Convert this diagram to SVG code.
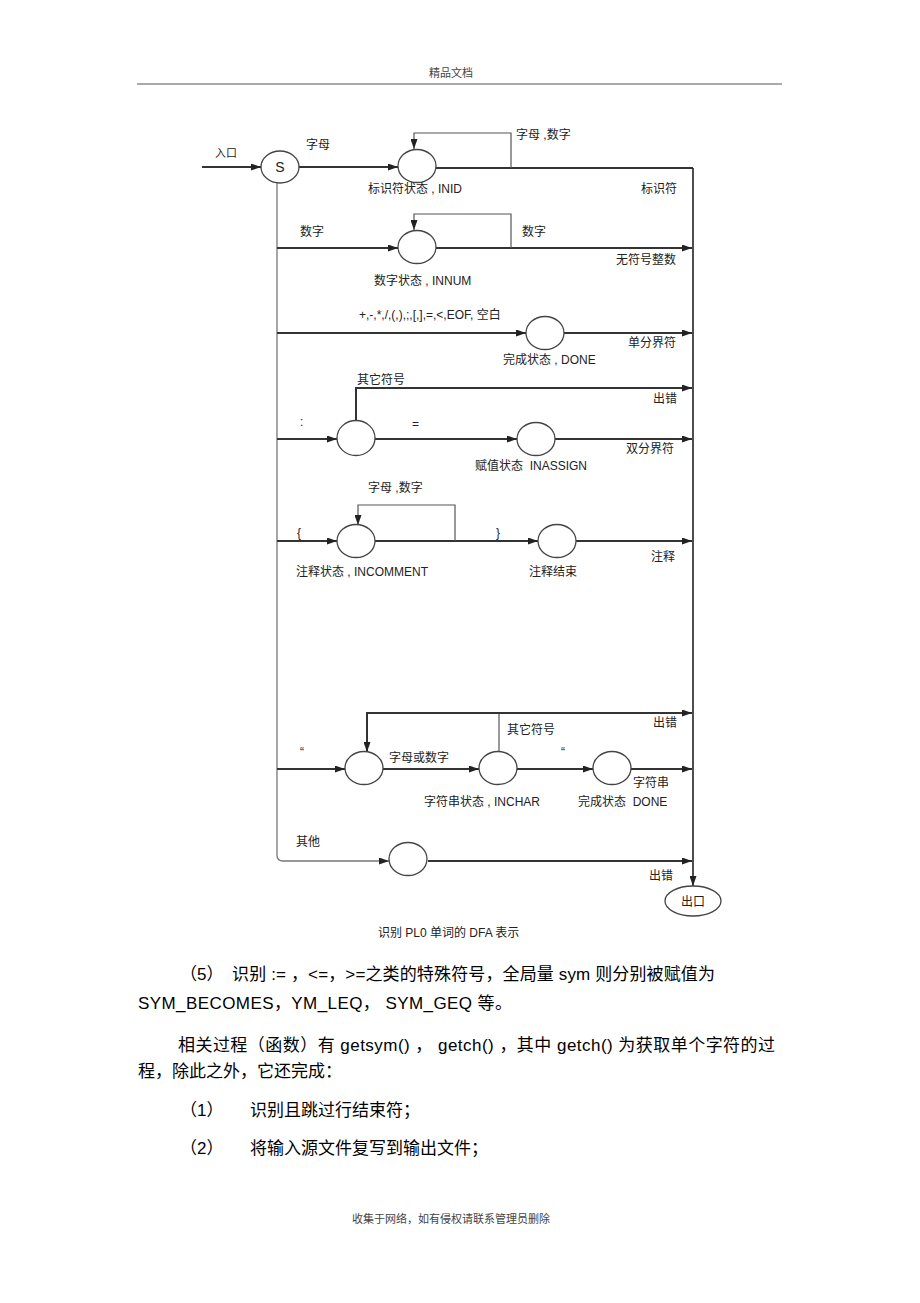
<svg xmlns="http://www.w3.org/2000/svg" width="920" height="1303" viewBox="0 0 920 1303">
<style>
.t{font-family:"Liberation Sans","Noto Sans CJK SC",sans-serif;font-size:12px;fill:#222}
.b{font-family:"Liberation Sans","Noto Sans CJK SC",sans-serif;font-size:17px;fill:#000}
.h{font-family:"Liberation Sans","Noto Sans CJK SC",sans-serif;font-size:11px;fill:#444}
.st{fill:#fff;stroke:#444;stroke-width:1.3}
.e{fill:none;stroke:#333;stroke-width:2}
.l{fill:none;stroke:#555;stroke-width:1.2}
.v{fill:none;stroke:#777;stroke-width:1.3}
</style>
<defs>
<marker id="a" markerWidth="10" markerHeight="7" refX="10" refY="3.5" orient="auto" markerUnits="userSpaceOnUse">
<path d="M0,0 L10,3.5 L0,7 z" fill="#222"/>
</marker>
</defs>
<rect width="920" height="1303" fill="#fff"/>

<g id="header">
<text class="h" x="451" y="77" text-anchor="middle">精品文档</text>
<line x1="137" y1="84" x2="782" y2="84" stroke="#555" stroke-width="1"/>
</g>

<g id="connectors">
<path class="e" d="M202,167 H261" marker-end="url(#a)"/>
<path class="e" d="M299,167 H398" marker-end="url(#a)"/>
<path class="e" d="M436,168 H693"/>
<path class="l" d="M511,168 V133 H414 V149" marker-end="url(#a)"/>
<path class="v" d="M277,183 V855 Q277,861 283,861 H389" marker-end="url(#a)"/>
<path class="e" d="M277,248 H398" marker-end="url(#a)"/>
<path class="e" d="M436,248 H692" marker-end="url(#a)"/>
<path class="l" d="M511,248 V214 H414 V230" marker-end="url(#a)"/>
<path class="e" d="M277,333 H526" marker-end="url(#a)"/>
<path class="e" d="M564,333 H692" marker-end="url(#a)"/>
<path class="e" d="M277,439 H337" marker-end="url(#a)"/>
<path class="e" d="M375,439 H517" marker-end="url(#a)"/>
<path class="e" d="M555,439 H692" marker-end="url(#a)"/>
<path class="e" d="M356,421 V388 H692" marker-end="url(#a)"/>
<path class="e" d="M277,541 H337" marker-end="url(#a)"/>
<path class="e" d="M375,541 H538" marker-end="url(#a)"/>
<path class="e" d="M576,541 H692" marker-end="url(#a)"/>
<path class="l" d="M455,541 V505 H358 V525" marker-end="url(#a)"/>
<path class="e" d="M277,769 H345" marker-end="url(#a)"/>
<path class="e" d="M383,769 H479" marker-end="url(#a)"/>
<path class="e" d="M517,769 H593" marker-end="url(#a)"/>
<path class="e" d="M631,769 H692" marker-end="url(#a)"/>
<path class="l" d="M499,752 V713"/>
<path class="e" d="M499,713 H692" marker-end="url(#a)"/>
<path class="e" d="M499,713 H367 V752" marker-end="url(#a)"/>
<path class="e" d="M428,861 H692" marker-end="url(#a)"/>
<path fill="none" stroke="#222" stroke-width="1.6" d="M693,168 V886" marker-end="url(#a)"/>
</g>

<g id="n_S"><ellipse class="st" cx="280" cy="167" rx="19" ry="16"/><text class="t" x="280" y="172" text-anchor="middle" style="font-size:14px">S</text></g>
<g id="n_INID"><ellipse class="st" cx="417" cy="166" rx="19" ry="16.5"/></g>
<g id="n_INNUM"><ellipse class="st" cx="417" cy="247" rx="19" ry="16.5"/></g>
<g id="n_DONE1"><ellipse class="st" cx="545" cy="333" rx="19" ry="16.5"/></g>
<g id="n_colon"><ellipse class="st" cx="356" cy="438" rx="19" ry="17.5"/></g>
<g id="n_INASSIGN"><ellipse class="st" cx="536" cy="439" rx="19" ry="16.5"/></g>
<g id="n_INCOMMENT"><ellipse class="st" cx="356" cy="541" rx="19" ry="16.5"/></g>
<g id="n_COMMENTEND"><ellipse class="st" cx="557" cy="541" rx="19" ry="16.5"/></g>
<g id="n_quote"><ellipse class="st" cx="364" cy="768" rx="19" ry="16.5"/></g>
<g id="n_INCHAR"><ellipse class="st" cx="498" cy="768" rx="19" ry="16.5"/></g>
<g id="n_DONE2"><ellipse class="st" cx="612" cy="768" rx="19" ry="16.5"/></g>
<g id="n_other"><ellipse class="st" cx="408" cy="859" rx="19" ry="16.5"/></g>
<g id="n_exit"><ellipse class="st" cx="693" cy="901" rx="28" ry="15"/><text class="t" x="693" y="906" text-anchor="middle">出口</text></g>

<g id="labels">
<text class="t" x="215" y="157" style="font-size:11px">入口</text>
<text class="t" x="306" y="149">字母</text>
<text class="t" x="516" y="139">字母 ,数字</text>
<text class="t" x="368" y="193">标识符状态 , INID</text>
<text class="t" x="641" y="193">标识符</text>
<text class="t" x="300" y="236">数字</text>
<text class="t" x="522" y="236">数字</text>
<text class="t" x="616" y="264">无符号整数</text>
<text class="t" x="374" y="285">数字状态 , INNUM</text>
<text class="t" x="359" y="319">+,-,*,/,(,),;,[,],=,&lt;,EOF, 空白</text>
<text class="t" x="628" y="347">单分界符</text>
<text class="t" x="503" y="364">完成状态 , DONE</text>
<text class="t" x="357" y="384">其它符号</text>
<text class="t" x="653" y="403">出错</text>
<text class="t" x="300" y="426">:</text>
<text class="t" x="412" y="428">=</text>
<text class="t" x="626" y="453">双分界符</text>
<text class="t" x="475" y="470" xml:space="preserve">赋值状态  INASSIGN</text>
<text class="t" x="368" y="492">字母 ,数字</text>
<text class="t" x="297" y="537">{</text>
<text class="t" x="496" y="537">}</text>
<text class="t" x="651" y="561">注释</text>
<text class="t" x="296" y="576">注释状态 , INCOMMENT</text>
<text class="t" x="529" y="576">注释结束</text>
<text class="t" x="300" y="756">“</text>
<text class="t" x="389" y="762">字母或数字</text>
<text class="t" x="507" y="734">其它符号</text>
<text class="t" x="653" y="727">出错</text>
<text class="t" x="561" y="756">“</text>
<text class="t" x="633" y="787">字符串</text>
<text class="t" x="424" y="806">字符串状态 , INCHAR</text>
<text class="t" x="578" y="806" xml:space="preserve">完成状态  DONE</text>
<text class="t" x="296" y="846">其他</text>
<text class="t" x="649" y="880">出错</text>
<text class="t" x="378" y="937">识别 PL0 单词的 DFA 表示</text>
</g>

<g id="body">
<text class="b" x="180" y="980">（5）</text>
<text class="b" x="232" y="980" textLength="483" lengthAdjust="spacing">识别 := ，&lt;=，&gt;=之类的特殊符号，全局量 sym 则分别被赋值为</text>
<text class="b" x="138" y="1009" textLength="374" lengthAdjust="spacing">SYM_BECOMES，YM_LEQ， SYM_GEQ 等。</text>
<text class="b" x="178" y="1051" textLength="597" lengthAdjust="spacing">相关过程（函数）有 getsym() ， getch() ，其中 getch() 为获取单个字符的过</text>
<text class="b" x="138" y="1077">程，除此之外，它还完成：</text>
<text class="b" x="180" y="1116">（1）</text>
<text class="b" x="250" y="1116">识别且跳过行结束符；</text>
<text class="b" x="180" y="1154">（2）</text>
<text class="b" x="250" y="1154">将输入源文件复写到输出文件；</text>
</g>

<g id="footer">
<text class="h" x="451" y="1223" text-anchor="middle">收集于网络，如有侵权请联系管理员删除</text>
</g>
</svg>
